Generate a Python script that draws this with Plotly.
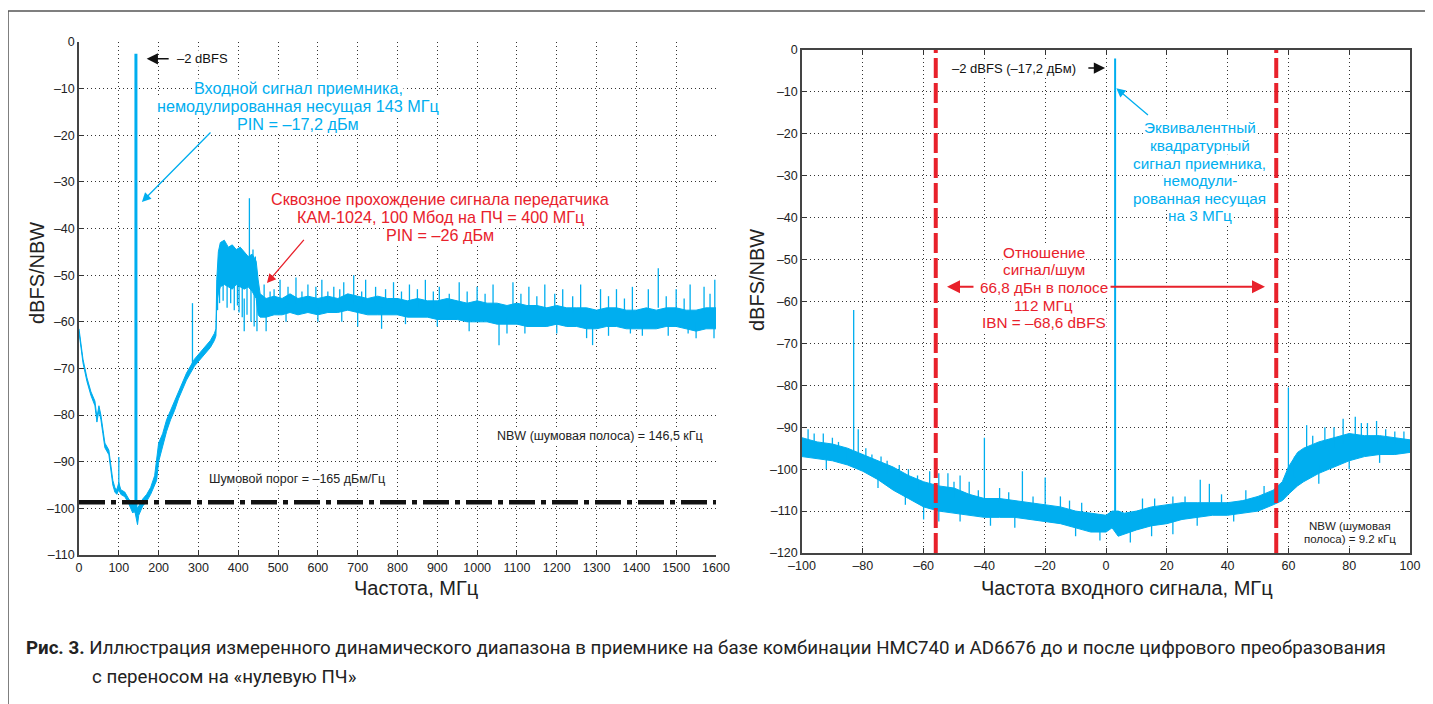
import plotly.graph_objects as go

W, H = 1433, 704
OFF = 8  # the page places the figure 8 px right and down
BLUE = "#00AEEF"
RED = "#E8212B"
FONT = "Liberation Sans"
CAP_FONT = "Roboto"


def fx(px):
    return (px - OFF) / W


def fy(py):
    return 1 - (py - OFF) / H


# ---------------- Left chart data (frequency MHz, dBFS/NBW) ----------------
L_freq = [0, 5, 10, 20, 30, 40, 45, 50, 55, 60, 65, 75, 80, 85, 90, 95, 100, 105, 115, 125,
          135, 140, 147, 150, 160, 170, 180, 190, 195, 200, 210, 220, 230, 240, 250, 260, 270, 280, 290, 300,
          310, 320, 330, 340, 344, 346, 350, 355, 365, 375, 385, 395, 405, 415, 425, 435, 445, 450, 455, 470, 490,
          510, 530, 550, 575, 600, 625, 650, 675, 700, 725, 750, 775, 800, 825, 850, 875, 900, 925, 950, 975,
          1000, 1025, 1050, 1075, 1100, 1125, 1150, 1175, 1200, 1225, 1250, 1275, 1300, 1325, 1350, 1375, 1400, 1425, 1450, 1475,
          1500, 1525, 1550, 1575, 1600]
L_upper = [-61.5, -64.5, -68, -72, -75, -77, -80.5, -78, -80, -83, -86, -87.5, -90.5, -94, -95.5, -96, -94.5, -96, -96.5, -98,
           -99, -99, -100, -99.5, -98, -97, -95.5, -93, -90, -86, -84, -81, -79, -77, -75, -73, -71, -69.5, -68, -67,
           -66, -65, -64, -62.5, -61.5, -51, -45, -43, -42.5, -44, -43.5, -44.5, -44, -45, -46, -45.5, -47, -51, -54, -55, -54.5,
           -55, -54, -55, -54.5, -55, -54.5, -55, -54, -54.5, -55, -54.5, -55, -55, -55.5, -55, -55.5, -55.5, -55, -55.5, -56,
           -55.5, -56, -56, -56.5, -56, -56.5, -56.5, -57, -56.5, -57, -57, -57, -57.5, -57, -57, -57.5, -57.5, -57, -57.5, -57,
           -57, -57.5, -57.5, -57, -57]
L_lower = [-62.2, -65.2, -68.8, -72.8, -75.8, -78, -81.5, -79, -81, -84, -87, -88.5, -91.5, -95, -96.5, -97, -96, -97, -97.5, -99,
           -101, -100.5, -103.5, -101.5, -99.5, -98.5, -97, -95, -94, -90, -86.5, -83.5, -81, -79, -76.5, -74.5, -72.5, -71, -69.5, -68.5,
           -67.5, -66.5, -65.5, -64, -63, -56, -54, -52.5, -52, -52.5, -53, -52, -52.5, -53, -52.5, -53.5, -55, -58.5, -59, -59, -58.5,
           -58.5, -58, -58.5, -58, -58.5, -58, -58, -57.5, -58, -58.5, -58.5, -58.5, -58.5, -59, -59, -59, -59.5, -59.5, -59.5, -60,
           -60, -60, -60.5, -60.5, -60.5, -61, -61, -61, -60.5, -61, -61, -61.5, -61.5, -61, -61, -61.5, -61.5, -61.5, -61.5, -61,
           -61, -61.5, -62, -61.5, -61.5]
# narrow spectral lines: position, one end, other end
L_spike_x = [100, 285, 428, 1455, 465, 480, 505, 525, 545, 575, 610, 640, 665, 690, 720, 745, 790, 830, 870, 905,
             955, 1000, 1040, 1090, 1130, 1170, 1215, 1260, 1310, 1350, 1390, 1430, 1500, 1535, 1570, 1597,
             415, 470, 700, 760, 1055, 1075, 1275, 1290, 1385, 1415, 1550, 1595,
             490, 560, 595, 625, 655, 710, 770, 810, 850, 890, 930, 975, 1020, 1110, 1150, 1195, 1240, 1330, 1370, 1475, 1520, 1585,
             520, 600, 660, 820, 900, 980, 1120, 1200, 1330, 1480, 1530,
             348, 353, 362, 372, 381, 390, 398, 402, 410, 422, 432, 440, 447, 443, 437]
L_spike_a = [-89, -56, -33.5, -48.5, -52, -53.5, -51, -52.5, -50.5, -52, -51, -52.5, -51.5, -50, -51, -52.5, -51.5, -52, -51, -52.5,
             -51.5, -52.5, -52, -51.5, -52.5, -52, -53, -52, -53, -53, -52.5, -53, -53, -52, -52.5, -51,
             -62, -62, -61, -61.5, -65, -62.5, -63.5, -65, -62.5, -63, -63.5, -63.5,
             -53, -53.5, -52.5, -53.5, -53, -53.5, -53, -53.5, -53, -53.5, -54, -53.5, -54, -54, -54.5, -54, -54.5, -54.5, -55, -54.5, -55, -54,
             -60, -60, -60, -60.5, -61, -62, -62.5, -62.5, -63, -63, -62.5,
             -57.5, -56, -55.5, -57, -56, -57.5, -56.5, -58, -59, -58.5, -60, -61, -62, -46, -44.5]
L_spike_b = [-96, -70, -50, -57, -56, -56, -56, -56, -56, -56, -56, -56, -56, -56, -56, -56, -56, -56, -56, -56,
             -57, -57, -57, -57, -57, -57, -58, -58, -58, -58, -58, -58, -58, -58, -58, -58,
             -55, -58, -57, -57, -59, -59, -60, -60, -60, -60, -60, -60,
             -56, -56, -56, -56, -56, -56, -56, -57, -57, -57, -57, -57, -57, -58, -58, -58, -58, -58, -58, -58, -58, -58,
             -57, -57, -57, -58, -58, -59, -60, -60, -60, -60, -60,
             -53, -52, -52, -52, -52, -52, -52, -52, -52, -52, -53, -53, -55, -52, -52]
L_carrier = [143, -2.5, -101]          # input carrier: MHz, top, bottom
L_noise_floor = -98.7                  # dBFS/NBW
L_xticks = list(range(0, 1601, 100))
L_yticks = [0, -10, -20, -30, -40, -50, -60, -70, -80, -90, -100, -110]
L_ylabels = ["0", "–10", "–20", "–30", "–40", "–50", "–60", "–70", "–80", "–90", "–100", "–110"]

# ---------------- Right chart data (input frequency MHz, dBFS/NBW) ----------------
R_freq = [-100, -95, -90, -85, -80, -75, -70, -65, -60, -55, -50, -45, -40, -35, -30, -25, -20, -15, -10, -5,
          0, 2, 4, 6, 10, 15, 20, 25, 30, 35, 40, 45, 50, 55, 58, 60, 63, 65, 70, 75,
          80, 85, 90, 95, 100]
R_upper = [-92.5, -93.5, -94, -95, -96.5, -98, -99.5, -101.5, -103, -104, -104.5, -106, -107, -107, -107.5, -108, -108.5, -109, -110, -110.5,
           -111, -110, -110, -110.5, -110, -109, -108.5, -108, -108, -108, -108, -107.5, -106.5, -105, -103, -99.5, -96, -95, -93.5, -92.5,
           -91.5, -92, -92, -92.5, -93]
R_lower = [-97, -97.5, -98, -99, -100.5, -102.5, -105, -107, -109, -110, -110.5, -111, -111.5, -111.5, -111.5, -112, -112.5, -113, -114, -115,
           -115, -114, -116, -115.5, -114.5, -113.5, -113, -112, -111.5, -111, -111, -110.5, -110, -108.5, -107.5, -106, -104, -103, -101, -99.5,
           -98, -97, -96.5, -96.5, -96]
R_spike_x = [-83, -81.5, -40, -27.5, -20, 60, 31, 34, -98, -93, -88, -85, -77, -72, -65, -58, -55, -52, -48, -45,
             -35, -15, -8, 12, 22, 46, 52, 66, 72, 78, 82, 86, 89, 95,
             -60, -55, -30, -2, 8, 15, 22,
             -96, -90, -79, -74, -68, -62, -50, -42, -32, -24, -12, 16, 26, 38, 62, 68, 75, 84, 92, 98,
             -92, -75, -66, -48, -38, -10, 30, 42, 70, 80, 90]
R_spike_a = [-62, -90.5, -92.5, -100.5, -102, -80.5, -102.5, -103.5, -90.5, -91.5, -93.5, -95.5, -96.5, -98, -100, -100.5, -101, -101, -101.5, -103,
             -104.5, -106.5, -108, -107, -106.5, -105, -104, -89.5, -90, -88, -87.5, -89, -88.5, -91,
             -112, -112.5, -114, -117, -117.5, -116, -115.5,
             -91.5, -92.5, -95, -97, -99, -101.5, -103, -105, -105.5, -106.5, -107.5, -107, -106.5, -106, -97, -92, -90, -89, -90.5, -91,
             -100, -104.5, -108.5, -112.5, -113.5, -116, -113.5, -112.5, -103.5, -100, -98.5]
R_spike_b = [-97, -97, -107, -108, -108.5, -100, -108, -108, -94, -95, -96, -98, -99, -101, -103, -104, -105, -105, -106, -107,
             -108, -110, -111, -110.5, -110, -108, -107, -96, -95, -94, -93, -93, -94, -94,
             -108, -108, -111, -114, -114, -113, -112,
             -95, -96, -98, -100, -102, -105, -107, -108, -109, -110, -111, -110, -109, -109, -102, -97, -95, -94, -94, -95,
             -97, -101, -104, -110, -111, -113, -111, -110, -99, -97, -95.5]
R_carrier = [3, -2, -112]
R_band_edges = [-56, 56]               # 112 MHz band
R_xticks = [-100, -80, -60, -40, -20, 0, 20, 40, 60, 80, 100]
R_xlabels = ["–100", "–80", "–60", "–40", "–20", "0", "20", "40", "60", "80", "100"]
R_yticks = [0, -10, -20, -30, -40, -50, -60, -70, -80, -90, -100, -110, -120]
R_ylabels = ["0", "–10", "–20", "–30", "–40", "–50", "–60", "–70", "–80", "–90", "–100", "–110", "–120"]

assert len(L_freq) == len(L_upper) == len(L_lower)
assert len(L_spike_x) == len(L_spike_a) == len(L_spike_b)
assert len(R_freq) == len(R_upper) == len(R_lower)
assert len(R_spike_x) == len(R_spike_a) == len(R_spike_b)


def segs(xs, a, b):
    X, Y = [], []
    for x, y0, y1 in zip(xs, a, b):
        X += [x, x, None]
        Y += [y0, y1, None]
    return X, Y


fig = go.Figure()

def add_spectrum(freq, lo, up, sx, sa, sb, carrier, xa, ya, cw):
    fig.add_trace(go.Scatter(x=freq, y=lo, mode="lines", line=dict(color=BLUE, width=1),
                             xaxis=xa, yaxis=ya, hoverinfo="skip", showlegend=False))
    fig.add_trace(go.Scatter(x=freq, y=up, mode="lines", line=dict(color=BLUE, width=1), fill="tonexty",
                             fillcolor=BLUE, xaxis=xa, yaxis=ya, hoverinfo="skip", showlegend=False))
    X, Y = segs(sx, sa, sb)
    fig.add_trace(go.Scatter(x=X, y=Y, mode="lines", line=dict(color=BLUE, width=1.3),
                             xaxis=xa, yaxis=ya, hoverinfo="skip", showlegend=False))
    fig.add_trace(go.Scatter(x=[carrier[0], carrier[0]], y=[carrier[1], carrier[2]], mode="lines",
                             line=dict(color=BLUE, width=cw), xaxis=xa, yaxis=ya, hoverinfo="skip", showlegend=False))

add_spectrum(L_freq, L_lower, L_upper, L_spike_x, L_spike_a, L_spike_b, L_carrier, "x", "y", 3)
fig.add_trace(go.Scatter(x=[L_xticks[0], L_xticks[-1]], y=[L_noise_floor, L_noise_floor], mode="lines",
                         line=dict(color="#111", width=4.5, dash="26px,6px,5px,6px"),
                         hoverinfo="skip", showlegend=False))
add_spectrum(R_freq, R_lower, R_upper, R_spike_x, R_spike_a, R_spike_b, R_carrier, "x2", "y2", 2)

axis_common = dict(showgrid=True, gridcolor="#333", griddash="1px,3px", gridwidth=1, zeroline=False,
                   ticks="inside", ticklen=5, tickcolor="#333", showline=True, linecolor="#444", linewidth=1.5,
                   automargin=False, tickfont=dict(family=FONT, size=12.5, color="#222"))

fig.update_layout(
    width=W, height=H, margin=dict(l=0, r=0, t=0, b=0, pad=0, autoexpand=False),
    paper_bgcolor="white", plot_bgcolor="white",
    font=dict(family=FONT),
    xaxis=dict(axis_common, domain=[fx(79), fx(716)], range=[0, 1600], tickvals=L_xticks,
               ticktext=[str(v) for v in L_xticks], anchor="y"),
    yaxis=dict(axis_common, domain=[fy(555), fy(42)], range=[-110, 0], tickvals=L_yticks,
               ticktext=L_ylabels, anchor="x"),
    xaxis2=dict(axis_common, domain=[fx(802), fx(1410)], range=[-100, 100], tickvals=R_xticks,
                ticktext=R_xlabels, anchor="y2", mirror="ticks"),
    yaxis2=dict(axis_common, domain=[fy(553), fy(50)], range=[-120, 0], tickvals=R_yticks,
                ticktext=R_ylabels, anchor="x2", mirror="ticks"),
)

shapes = []
for xe in R_band_edges:
    shapes.append(dict(type="line", xref="x2", yref="y2 domain", x0=xe, x1=xe, y0=0, y1=1,
                       line=dict(color=RED, width=4, dash="20px,5px"), layer="above"))
# outer frame (top and left)
shapes.append(dict(type="line", xref="paper", yref="paper", x0=fx(8), x1=1, y0=fy(11), y1=fy(11),
                   line=dict(color="#555", width=1.5)))
shapes.append(dict(type="line", xref="paper", yref="paper", x0=fx(8), x1=fx(8), y0=0, y1=fy(11),
                   line=dict(color="#555", width=1.5)))
fig.update_layout(shapes=shapes)

ann = []

def text_lines(lines, x, y0, dy, color, size, xref, yref, bg="white"):
    for i, t in enumerate(lines):
        ann.append(dict(text=t, x=x, y=y0 - i * dy, xref=xref, yref=yref, showarrow=False,
                        font=dict(family=FONT, size=size, color=color), bgcolor=bg, borderpad=0,
                        xanchor="center", yanchor="middle"))

def arrow(x, y, ax, ay, color, xref, yref, width=1.3, size=1.4):
    ann.append(dict(text="", x=x, y=y, ax=ax, ay=ay, xref=xref, yref=yref, axref=xref, ayref=yref,
                    showarrow=True, arrowhead=2, arrowsize=size, arrowwidth=width, arrowcolor=color))

# left chart annotations
text_lines(["–2 dBFS"], 310, -3.6, 0, "#111", 13, "x", "y")
arrow(170, -3.6, 229, -3.6, "#111", "x", "y", 1.5, 1.5)
text_lines(["Входной сигнал приемника,", "немодулированная несущая 143 МГц", "PIN = –17,2 дБм"],
           551, -9.86, 3.86, BLUE, 16.2, "x", "y")
arrow(158, -34.3, 334, -19.1, BLUE, "x", "y", 1.3, 1.4)
text_lines(["Сквозное прохождение сигнала передатчика", "КАМ-1024, 100 Мбод на ПЧ = 400 МГц", "PIN = –26 дБм"],
           907, -33.66, 3.86, RED, 16.2, "x", "y")
arrow(472, -51.7, 568, -42.1, RED, "x", "y", 1.3, 1.4)
text_lines(["Шумовой порог = –165 дБм/Гц"], 548, -93.8, 0, "#222", 12.5, "x", "y")
text_lines(["NBW (шумовая полоса) = 146,5 кГц"], 1309, -84.5, 0, "#222", 12.5, "x", "y")

# right chart annotations
text_lines(["–2 dBFS (–17,2 дБм)"], -30.3, -4.3, 0, "#111", 13, "x2", "y2")
arrow(-0.3, -4.3, -6.3, -4.3, "#111", "x2", "y2", 1.5, 1.5)
text_lines(["Эквивалентный", "квадратурный", "сигнал приемника,", "немодули-", "рованная несущая", "на 3 МГц"],
           30.9, -18.6, 4.2, BLUE, 15.3, "x2", "y2")
arrow(3.4, -9.1, 14.3, -15.8, BLUE, "x2", "y2", 1.3, 1.4)
text_lines(["Отношение", "сигнал/шум", "66,8 дБн в полосе", "112 МГц", "IBN = –68,6 dBFS"],
           -20.4, -48.2, 4.22, RED, 15.3, "x2", "y2")
arrow(-52.3, -56.5, -43.1, -56.5, RED, "x2", "y2", 2, 1.3)
arrow(52.3, -56.5, 1.0, -56.5, RED, "x2", "y2", 2, 1.3)
text_lines(["NBW (шумовая", "полоса) = 9.2 кГц"], 80.3, -113.6, 3.1, "#222", 11.5, "x2", "y2")

# axis titles
for t, x, y, ang in [("dBFS/NBW", 37, 273, -90), ("Частота, МГц", 416, 588, 0),
                     ("dBFS/NBW", 757, 280, -90), ("Частота входного сигнала, МГц", 1127, 588, 0)]:
    ann.append(dict(text=t, x=fx(x), y=fy(y), xref="paper", yref="paper", showarrow=False,
                    textangle=ang, font=dict(family=FONT, size=20, color="#222"),
                    xanchor="center", yanchor="middle"))

# caption
ann.append(dict(text="<b>Рис. 3.</b> Иллюстрация измеренного динамического диапазона в приемнике на базе комбинации HMC740 и AD6676 до и после цифрового преобразования",
                x=fx(24), y=fy(648), xref="paper", yref="paper", showarrow=False, xanchor="left",
                yanchor="middle", font=dict(family=CAP_FONT, size=18.7, color="#222")))
ann.append(dict(text="с переносом на «нулевую ПЧ»", x=fx(90), y=fy(677), xref="paper", yref="paper",
                showarrow=False, xanchor="left", yanchor="middle",
                font=dict(family=CAP_FONT, size=18.7, color="#222")))

fig.update_layout(annotations=ann)
fig.write_html("out.html")
